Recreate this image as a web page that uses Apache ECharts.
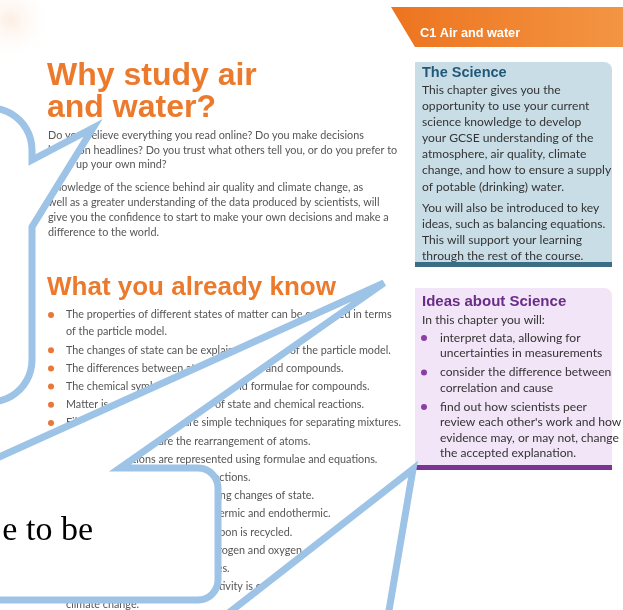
<!DOCTYPE html>
<html>
<head>
<meta charset="utf-8">
<script src="https://cdn.jsdelivr.net/npm/echarts@6/dist/echarts.min.js"></script>
<style>
html, body { margin: 0; padding: 0; background: #fff; }
#main { width: 623px; height: 610px; }
</style>
</head>
<body>
<div id="main"></div>
<script>
// page text
const headerTag = 'C1 Air and water'
const titleLines = ['Why study air', 'and water?']
const introPara1 = [
  'Do you believe everything you read online? Do you make decisions',
  'based on headlines? Do you trust what others tell you, or do you prefer to',
  'make up your own mind?'
]
const introPara2 = [
  'Knowledge of the science behind air quality and climate change, as',
  'well as a greater understanding of the data produced by scientists, will',
  'give you the confidence to start to make your own decisions and make a',
  'difference to the world.'
]
const knowTitle = 'What you already know'
const knowItems = [
  ['The properties of different states of matter can be explained in terms', 'of the particle model.'],
  ['The changes of state can be explained in terms of the particle model.'],
  ['The differences between atoms, elements and compounds.'],
  ['The chemical symbols of elements and formulae for compounds.'],
  ['Matter is conserved in changes of state and chemical reactions.'],
  ['Filtration and distillation are simple techniques for separating mixtures.'],
  ['Chemical reactions are the rearrangement of atoms.'],
  ['Chemical reactions are represented using formulae and equations.'],
  ['Energy changes take place in reactions.'],
  ['Particles gain or lose energy during changes of state.'],
  ['Chemical reactions can be exothermic and endothermic.'],
  ['The carbon cycle shows how carbon is recycled.'],
  ['The air is mostly a mixture of nitrogen and oxygen,', 'with small amounts of other gases.'],
  ['There is evidence that human activity is contributing to', 'climate change.']
]
const scienceTitle = 'The Science'
const sciencePara1 = [
  'This chapter gives you the',
  'opportunity to use your current',
  'science knowledge to develop',
  'your GCSE understanding of the',
  'atmosphere, air quality, climate',
  'change, and how to ensure a supply',
  'of potable (drinking) water.'
]
const sciencePara2 = [
  'You will also be introduced to key',
  'ideas, such as balancing equations.',
  'This will support your learning',
  'through the rest of the course.'
]
const ideasTitle = 'Ideas about Science'
const ideasIntro = 'In this chapter you will:'
const ideasItems = [
  ['interpret data, allowing for', 'uncertainties in measurements'],
  ['consider the difference between', 'correlation and cause'],
  ['find out how scientists peer', "review each other's work and how", 'evidence may, or may not, change', 'the accepted explanation.']
]
const calloutText = 'e to be'

const ORANGE = '#ec7a2c'
const BUBBLE = '#9dc3e6'
const BODY = '#555'
const SANS = 'Lato'
const HEAD = '"Liberation Sans"'
const LEFT_FONT = '10.8px ' + SANS
const BOX_FONT = '12.1px ' + SANS

const els = []

function txt(x, y, text, font, fill, align, z) {
  els.push({
    type: 'text', x: x, y: y, z: z || 5,
    style: {
      text: text, font: font, fill: fill,
      textAlign: align || 'left', align: align || 'left',
      textVerticalAlign: 'middle', verticalAlign: 'middle'
    }
  })
}
function dot(x, y, r, color) {
  els.push({ type: 'circle', z: 5, shape: { cx: x, cy: y, r: r }, style: { fill: color } })
}
// arc points for the rounded corners of the callouts
function arc(cx, cy, r, a0, a1) {
  const pts = []
  for (let i = 0; i <= 12; i++) {
    const a = (a0 + (a1 - a0) * i / 12) * Math.PI / 180
    pts.push([cx + r * Math.cos(a), cy + r * Math.sin(a)])
  }
  return pts
}
function bubble(points) {
  els.push({
    type: 'polygon', z: 20,
    shape: { points: points },
    style: { fill: '#fff', stroke: BUBBLE, lineWidth: 7, lineJoin: 'miter' }
  })
}

// faint scan tint, top-left
els.push({
  type: 'rect', z: 0, shape: { x: 0, y: 0, width: 70, height: 80 },
  style: { fill: new echarts.graphic.RadialGradient(0.15, 0.25, 0.6, [
    { offset: 0, color: 'rgba(248,205,175,0.35)' },
    { offset: 1, color: 'rgba(255,255,255,0)' }
  ]) }
})

// orange header band
els.push({
  type: 'polygon', z: 1,
  shape: { points: [[391, 7], [623, 7], [623, 47], [415, 47]] },
  style: { fill: new echarts.graphic.LinearGradient(0, 0, 1, 0, [
    { offset: 0, color: '#ed741f' },
    { offset: 1, color: '#f39543' }
  ]) }
})
txt(420, 33, headerTag, 'bold 12.7px ' + HEAD, '#fff')

// The Science box
els.push({ type: 'rect', z: 1, shape: { x: 415, y: 62, width: 197, height: 205, r: [0, 8, 0, 0] }, style: { fill: '#c9dde6' } })
els.push({ type: 'rect', z: 2, shape: { x: 415, y: 262, width: 197, height: 5 }, style: { fill: '#3b6d85' } })
txt(422, 73, scienceTitle, 'bold 14.5px ' + HEAD, '#1f5878')
sciencePara1.forEach((s, i) => txt(422, 90 + i * 16.1, s, BOX_FONT, '#333'))
sciencePara2.forEach((s, i) => txt(422, 208 + i * 16, s, BOX_FONT, '#333'))

// Ideas about Science box
els.push({ type: 'rect', z: 1, shape: { x: 415, y: 288, width: 197, height: 180, r: [0, 8, 0, 0] }, style: { fill: '#f1e5f7' } })
els.push({ type: 'rect', z: 2, shape: { x: 415, y: 465, width: 197, height: 5 }, style: { fill: '#7b3394' } })
txt(422, 302, ideasTitle, 'bold 15px ' + HEAD, '#6a2c86')
txt(422, 320, ideasIntro, BOX_FONT, '#333')
let iy = 338
ideasItems.forEach(item => {
  item.forEach((s, j) => {
    if (j === 0) dot(424, iy, 3, '#8b3ea3')
    txt(440, iy, s, BOX_FONT, '#333')
    iy += 15.5
  })
  iy += 3.5
})

// left column
txt(47, 76, titleLines[0], 'bold 32px ' + HEAD, ORANGE)
txt(47, 108, titleLines[1], 'bold 32px ' + HEAD, ORANGE)
introPara1.forEach((s, i) => txt(48, 136 + i * 14.5, s, LEFT_FONT, BODY))
introPara2.forEach((s, i) => txt(48, 188 + i * 15, s, LEFT_FONT, BODY))
txt(47, 288, knowTitle, 'bold 26px ' + HEAD, ORANGE)
let n = 0
knowItems.forEach(item => {
  item.forEach((s, j) => {
    const y = n === 0 ? 315 : 332 + (n - 1) * 18.2
    if (j === 0) dot(51, y, 3, '#e8773a')
    txt(66, y, s, LEFT_FONT, BODY)
    n++
  })
})

// callouts on top of the page
bubble([[-60, 108], [-10, 108]].concat(arc(-10, 150, 42, -90, 0),
  [[32, 160], [93, 128], [32, 227], [32, 360]], arc(-10, 360, 42, 0, 90), [[-60, 402]]))
bubble([[-200, 468], [-25, 468], [384, 283], [120, 468], [198, 468]].concat(
  arc(198, 488, 20, -90, 0), arc(198, 580, 20, 0, 90), [[-200, 600]]))
bubble([[194, 640], [413, 469], [384, 640]])
txt(93, 531, calloutText, '34px "Liberation Serif"', '#000', 'right', 30)

const chart = echarts.init(document.getElementById('main'))
chart.setOption({
  backgroundColor: '#fff',
  animation: false,
  graphic: { elements: els }
})
</script>
</body>
</html>
